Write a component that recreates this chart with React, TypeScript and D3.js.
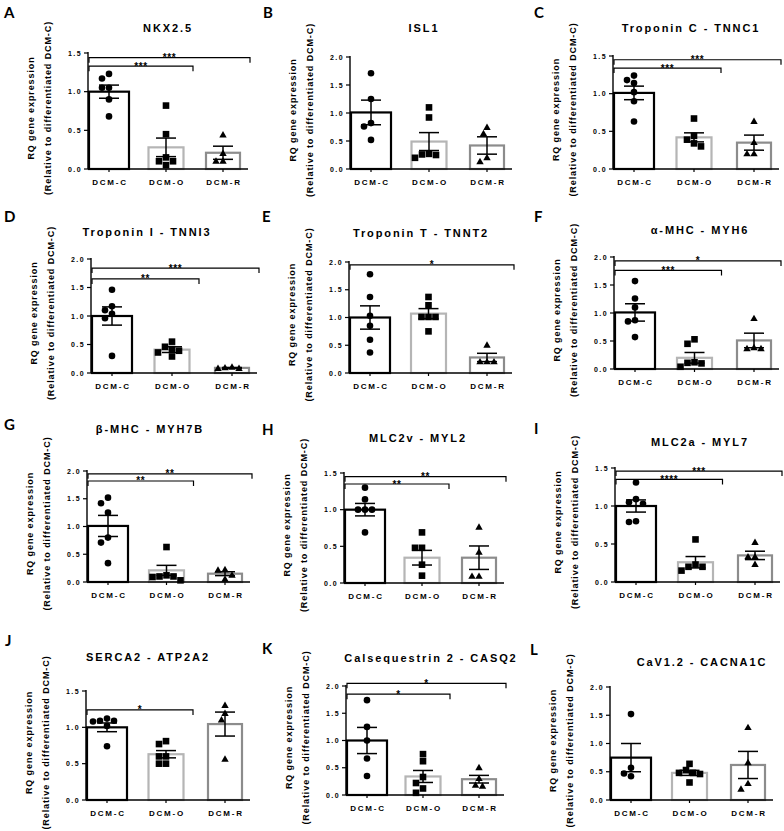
import React from 'react';
import * as d3 from 'd3';

const categories = ['DCM-C', 'DCM-O', 'DCM-R'];
const panelLetters = ['A', 'B', 'C', 'D', 'E', 'F', 'G', 'H', 'I', 'J', 'K', 'L'];
const panelTitles = [
  'NKX2.5', 'ISL1', 'Troponin C - TNNC1',
  'Troponin I - TNNI3', 'Troponin T - TNNT2', 'α-MHC - MYH6',
  'β-MHC - MYH7B', 'MLC2v - MYL2', 'MLC2a - MYL7',
  'SERCA2 - ATP2A2', 'Calsequestrin 2 - CASQ2', 'CaV1.2 - CACNA1C',
];
const yMaxValues = [1.5, 2, 1.5, 2, 2, 2, 2, 1.5, 1.5, 1.5, 2, 2];
const yTickStep = 0.5;

const meanValues = [
  [1.0, 0.28, 0.21],
  [1.01, 0.49, 0.42],
  [1.01, 0.42, 0.35],
  [1.0, 0.41, 0.09],
  [1.0, 1.07, 0.28],
  [1.01, 0.2, 0.51],
  [1.01, 0.21, 0.15],
  [1.0, 0.345, 0.345],
  [1.0, 0.26, 0.35],
  [1.0, 0.63, 1.045],
  [1.0, 0.34, 0.29],
  [0.75, 0.48, 0.62],
];
const semValues = [
  [0.085, 0.12, 0.085],
  [0.22, 0.16, 0.155],
  [0.09, 0.06, 0.1],
  [0.16, 0.05, 0.006],
  [0.21, 0.09, 0.075],
  [0.155, 0.095, 0.13],
  [0.19, 0.09, 0.035],
  [0.085, 0.1, 0.16],
  [0.08, 0.075, 0.055],
  [0.06, 0.05, 0.165],
  [0.24, 0.11, 0.07],
  [0.25, 0.045, 0.24],
];
const pointsDCMC = [
  [1.23, 1.17, 1.05, 1.05, 0.9, 0.68],
  [1.71, 1.25, 0.82, 0.76, 0.52],
  [1.24, 1.18, 1.14, 1.02, 0.9, 0.63],
  [1.46, 1.17, 1.1, 1.04, 0.96, 0.3],
  [1.78, 1.37, 1.03, 0.85, 0.6, 0.37],
  [1.57, 1.26, 1.1, 0.87, 0.85, 0.57],
  [1.52, 1.42, 1.25, 0.8, 0.71, 0.34],
  [1.3, 1.14, 1.0, 1.0, 1.0, 0.69],
  [1.31, 1.09, 1.05, 1.03, 0.8, 0.79],
  [1.12, 1.09, 1.09, 1.08, 1.02, 0.74],
  [1.74, 1.25, 1.0, 0.67, 0.35],
  [1.52, 0.57, 0.47, 0.42],
];
const pointsDCMO = [
  [0.82, 0.45, 0.15, 0.1, 0.1, 0.05],
  [1.1, 0.92, 0.27, 0.26, 0.25, 0.2],
  [0.67, 0.44, 0.39, 0.34, 0.3],
  [0.55, 0.46, 0.42, 0.39, 0.36, 0.29],
  [1.37, 1.22, 1.01, 1.01, 1.01, 0.75],
  [0.53, 0.45, 0.12, 0.11, 0.1, 0.04],
  [0.63, 0.12, 0.1, 0.1, 0.09, 0.03],
  [0.69, 0.48, 0.48, 0.25, 0.1],
  [0.56, 0.23, 0.2, 0.2, 0.15],
  [0.81, 0.77, 0.6, 0.6, 0.5, 0.5],
  [0.75, 0.62, 0.33, 0.22, 0.12, 0.04],
  [0.64, 0.53, 0.48, 0.48, 0.46, 0.31],
];
const pointsDCMR = [
  [0.44, 0.2, 0.1, 0.1],
  [0.74, 0.63, 0.2, 0.13],
  [0.63, 0.35, 0.2, 0.2],
  [0.1, 0.09, 0.08, 0.08],
  [0.5, 0.2, 0.2, 0.2],
  [0.9, 0.38, 0.36, 0.36],
  [0.22, 0.21, 0.12, 0.05],
  [0.76, 0.42, 0.09, 0.09],
  [0.52, 0.33, 0.33, 0.23],
  [1.3, 1.19, 1.1, 0.56],
  [0.5, 0.3, 0.18, 0.16],
  [1.28, 0.66, 0.29, 0.19],
];
// significance brackets: [compared group, bracket level (y value), label]
const significance: [string, number, string][][] = [
  [['DCM-O', 1.33, '***'], ['DCM-R', 1.44, '***']],
  [],
  [['DCM-O', 1.34, '***'], ['DCM-R', 1.45, '***']],
  [['DCM-O', 1.65, '**'], ['DCM-R', 1.84, '***']],
  [['DCM-R', 1.95, '*']],
  [['DCM-O', 1.76, '***'], ['DCM-R', 1.93, '*']],
  [['DCM-O', 1.82, '**'], ['DCM-R', 1.95, '**']],
  [['DCM-O', 1.35, '**'], ['DCM-R', 1.45, '**']],
  [['DCM-O', 1.35, '****'], ['DCM-R', 1.46, '***']],
  [['DCM-O', 1.24, '*']],
  [['DCM-O', 1.85, '*'], ['DCM-R', 2.05, '*']],
  [],
];
const yLabelLine1 = 'RQ gene expression';
const yLabelLine2 = '(Relative to differentiated DCM-C)';

// layout (positions only)
const panelLayout = [
  { x0: 88, w: 160, yTop: 53, yBot: 169, tx: 168, ty: 28, lx: 4, ly: 18 },
  { x0: 350, w: 162, yTop: 57, yBot: 169, tx: 424, ty: 28, lx: 263, ly: 18 },
  { x0: 613, w: 166, yTop: 56, yBot: 169, tx: 691, ty: 28, lx: 534, ly: 18 },
  { x0: 91, w: 166, yTop: 259, yBot: 373, tx: 147, ty: 232, lx: 4, ly: 222 },
  { x0: 349, w: 163, yTop: 262, yBot: 373, tx: 421, ty: 233, lx: 262, ly: 222 },
  { x0: 614, w: 165, yTop: 257, yBot: 369, tx: 700, ty: 230, lx: 534, ly: 222 },
  { x0: 87, w: 163, yTop: 471, yBot: 582, tx: 150, ty: 429, lx: 4, ly: 430 },
  { x0: 344, w: 160, yTop: 473, yBot: 583, tx: 418, ty: 438, lx: 262, ly: 435 },
  { x0: 615, w: 165, yTop: 468, yBot: 582, tx: 700, ty: 442, lx: 534, ly: 434 },
  { x0: 86, w: 164, yTop: 691, yBot: 800, tx: 148, ty: 657, lx: 5, ly: 646 },
  { x0: 346, w: 158, yTop: 686, yBot: 795, tx: 431, ty: 658, lx: 262, ly: 654 },
  { x0: 610, w: 163, yTop: 687, yBot: 800, tx: 702, ty: 662, lx: 530, ly: 655 },
];
const barStrokes = ['#000000', '#b5b5b5', '#8c8c8c'];
const barWidths = [40, 35, 34];
const markerShapes = ['circle', 'square', 'triangle'];
const FONT = "'Liberation Sans', Arial, sans-serif";

function swarm(vals: number[], yScale: (v: number) => number, cx: number, d: number) {
  const placed: { x: number; y: number }[] = [];
  vals.forEach((v) => {
    const py = yScale(v);
    let px = cx;
    for (let k = 0; k < 30; k++) {
      const off = k === 0 ? 0 : (k % 2 ? -1 : 1) * Math.ceil(k / 2) * (d / 2);
      const cand = cx + off;
      const ok = placed.every((p) => Math.hypot(p.x - cand, p.y - py) >= d);
      if (ok) { px = cand; break; }
    }
    placed.push({ x: px, y: py });
  });
  return placed;
}

function Marker({ shape, x, y }: { shape: string; x: number; y: number }) {
  if (shape === 'circle') return <circle cx={x} cy={y} r={3.3} fill="#000" />;
  if (shape === 'square') return <rect x={x - 3.3} y={y - 3.3} width={6.6} height={6.6} fill="#000" />;
  const s = 7.4;
  const h = s * 0.866;
  return <path d={`M${x},${y - h * 0.62}L${x + s / 2},${y + h * 0.38}L${x - s / 2},${y + h * 0.38}Z`} fill="#000" />;
}

function Panel({ i }: { i: number }) {
  const L = panelLayout[i];
  const ymax = yMaxValues[i];
  const y = d3.scaleLinear().domain([0, ymax]).range([L.yBot, L.yTop]);
  const x = d3.scalePoint<string>().domain(categories).range([L.x0 + 21, L.x0 + L.w - 25]);
  const ticks = d3.range(0, ymax + 1e-6, yTickStep);
  const groupPoints = [pointsDCMC[i], pointsDCMO[i], pointsDCMR[i]];
  const ymid = (L.yTop + L.yBot) / 2;
  return (
    <g>
      <text x={L.lx} y={L.ly} fontFamily="Lato, 'Open Sans', sans-serif" fontWeight="bold" fontSize={15}>{panelLetters[i]}</text>
      <text x={L.tx} y={L.ty} textAnchor="middle" dominantBaseline="central" fontFamily={FONT} fontWeight="bold" fontSize={11} letterSpacing={1.9}>{panelTitles[i]}</text>
      <g transform={`translate(${L.x0 - 57},${ymid - 3}) rotate(-90)`}>
        <text textAnchor="middle" dominantBaseline="central" fontFamily={FONT} fontWeight="bold" fontSize={9} letterSpacing={0.9}>{yLabelLine1}</text>
      </g>
      <g transform={`translate(${L.x0 - 40},${ymid - 3}) rotate(-90)`}>
        <text textAnchor="middle" dominantBaseline="central" fontFamily={FONT} fontWeight="bold" fontSize={9} letterSpacing={0.9}>{yLabelLine2}</text>
      </g>
      {/* bars */}
      {categories.map((c, g) => {
        const m = meanValues[i][g];
        const bw = barWidths[g];
        return (
          <rect key={c} x={x(c)! - bw / 2} y={y(m)} width={bw} height={L.yBot - y(m)} fill="#fff" stroke={barStrokes[g]} strokeWidth={2.2} />
        );
      })}
      {/* axes */}
      <line x1={L.x0} x2={L.x0} y1={L.yBot} y2={L.yTop - 1} stroke="#000" strokeWidth={1.4} />
      <line x1={L.x0} x2={L.x0 + L.w} y1={L.yBot} y2={L.yBot} stroke="#000" strokeWidth={1.6} />
      {ticks.map((t) => (
        <g key={t}>
          <line x1={L.x0 - 4} x2={L.x0} y1={y(t)} y2={y(t)} stroke="#000" strokeWidth={1.2} />
          <text x={L.x0 - 6} y={y(t)} textAnchor="end" dominantBaseline="central" fontFamily={FONT} fontWeight="bold" fontSize={7} letterSpacing={1.4}>{t.toFixed(1)}</text>
        </g>
      ))}
      {categories.map((c) => (
        <g key={c}>
          <line x1={x(c)} x2={x(c)} y1={L.yBot} y2={L.yBot + 3} stroke="#000" strokeWidth={1.2} />
          <text x={x(c)! + 1} y={L.yBot + 16} textAnchor="middle" fontFamily={FONT} fontWeight="bold" fontSize={8} letterSpacing={1.8}>{c}</text>
        </g>
      ))}
      {/* error bars */}
      {categories.map((c, g) => {
        const m = meanValues[i][g];
        const s = semValues[i][g];
        const cx = x(c)!;
        const top = y(m + s);
        const bot = y(Math.max(0, m - s));
        return (
          <g key={c} stroke="#000" strokeWidth={1.5}>
            <line x1={cx} x2={cx} y1={top} y2={bot} />
            <line x1={cx - 10} x2={cx + 10} y1={top} y2={top} />
            <line x1={cx - 10} x2={cx + 10} y1={bot} y2={bot} />
          </g>
        );
      })}
      {/* points */}
      {categories.map((c, g) =>
        swarm(groupPoints[g], y, x(c)!, 7).map((p, k) => (
          <Marker key={c + k} shape={markerShapes[g]} x={p.x} y={p.y} />
        ))
      )}
      {/* significance */}
      {significance[i].map(([grp, lvl, lab], k) => {
        const yl = y(lvl);
        const xEnd = x(grp)! + 27;
        const xs = L.x0 + 1;
        return (
          <g key={k}>
            <path d={`M${xs},${yl + 5}V${yl}H${xEnd}V${yl + 5}`} fill="none" stroke="#000" strokeWidth={1.2} />
            <text x={(xs + xEnd) / 2} y={yl + 3.5} textAnchor="middle" fontFamily={FONT} fontWeight="bold" fontSize={10} letterSpacing={0.6}>{lab}</text>
          </g>
        );
      })}
    </g>
  );
}

export default function App() {
  return (
    <svg width={784} height={831} style={{ position: 'absolute', left: 0, top: 0, background: '#fff' }}>
      <rect width={784} height={831} fill="#fff" />
      {panelLayout.map((_, i) => (
        <Panel key={i} i={i} />
      ))}
    </svg>
  );
}
